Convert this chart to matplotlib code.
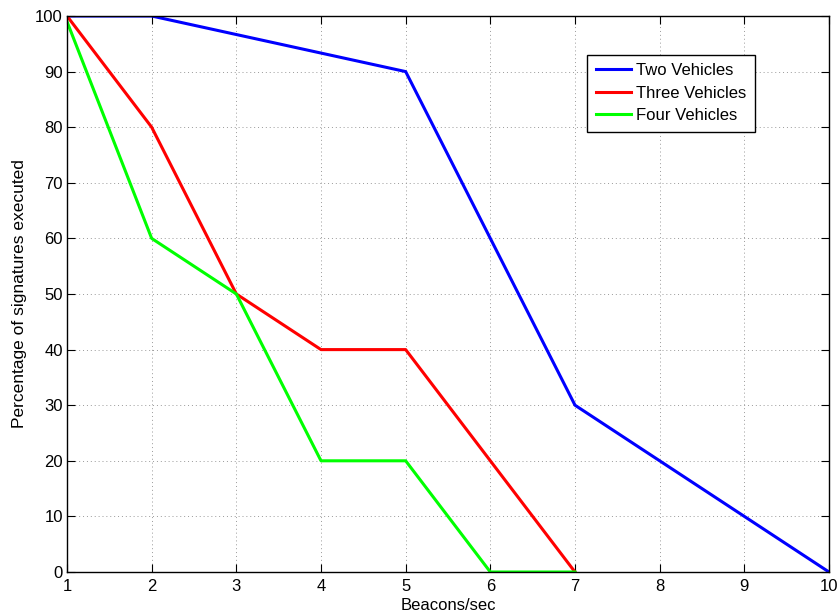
import numpy as np
import matplotlib
matplotlib.use("Agg")
import matplotlib.pyplot as plt

plt.rcParams["font.family"] = ["Liberation Sans", "DejaVu Sans"]

# data
two_x = [1, 2, 5, 7, 10]
two_y = [100, 100, 90, 30, 0]
three_x = [1, 2, 3, 4, 5, 7]
three_y = [100, 80, 50, 40, 40, 0]
four_x = [1, 2, 3, 4, 5, 6, 7]
four_y = [99, 60, 50, 20, 20, 0, 0]

fig = plt.figure(figsize=(8.4, 6.16), dpi=100)
ax = fig.add_axes([67 / 840, 44 / 616, (829 - 67) / 840, (572 - 16) / 616])

ax.plot(two_x, two_y, color="#0000ff", lw=2.2, label="Two Vehicles")
ax.plot(three_x, three_y, color="#ff0000", lw=2.2, label="Three Vehicles")
ax.plot(four_x, four_y, color="#00ff00", lw=2.2, label="Four Vehicles")

ax.set_xlim(1, 10)
ax.set_ylim(0, 100)
ax.set_xticks(np.arange(1, 11))
ax.set_yticks(np.arange(0, 101, 10))
ax.grid(True, linestyle=(0, (1, 3)), color="#999999", linewidth=0.7)
ax.tick_params(direction="in", labelsize=12, length=5.5, width=0.8,
               top=True, right=True)
ax.tick_params(axis="x", pad=5)
ax.tick_params(axis="y", pad=3)
for s in ax.spines.values():
    s.set_linewidth(1.0)

ax.set_xlabel("Beacons/sec", fontsize=12, labelpad=3)
ax.set_ylabel("Percentage of signatures executed", fontsize=12.5, labelpad=6)

leg = ax.legend(loc="upper right",
                bbox_to_anchor=((755 - 67) / 762, 1 - (55 - 16) / 556),
                bbox_transform=ax.transAxes, fontsize=12, fancybox=False,
                framealpha=1, edgecolor="black", borderpad=0.5,
                handlelength=2.15, labelspacing=0.45, handletextpad=0.3,
                borderaxespad=0)
leg.get_frame().set_linewidth(1.0)

fig.savefig("out.png", dpi=100)
